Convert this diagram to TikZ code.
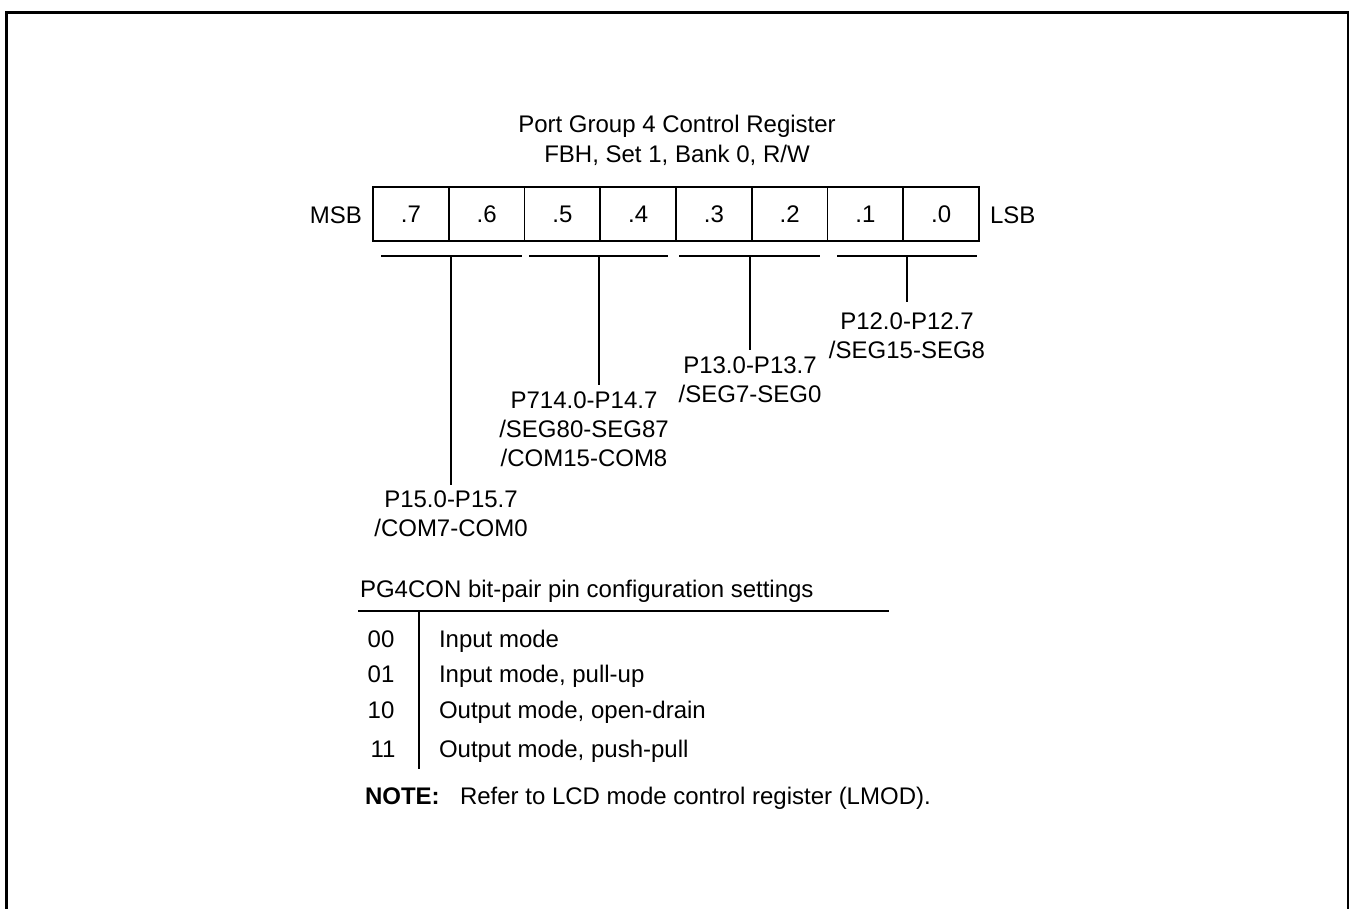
\documentclass[tikz,border=0pt]{standalone}
\usepackage{fontspec}
\setmainfont{Liberation Sans}
\begin{document}
\begin{tikzpicture}[x=1pt,y=-1pt,
  every node/.style={inner sep=0pt, outer sep=0pt, font=\fontsize{24}{28.8}\selectfont},
  ln/.style={line width=1.8pt},
  cell/.style={draw, line width=1.8pt, minimum width=75.75pt, minimum height=54pt, text height=17pt, text depth=0pt},
  lbl/.style={align=center, anchor=north}]
\useasboundingbox (0,0) rectangle (1351,909);
% outer frame (bottom edge lies outside the picture)
\draw[line width=2.4pt] (6.5,930) -- (6.5,12.5) -- (1348,12.5) -- (1348,930);

% title
\node[anchor=base] (t1) at (677,133) {Port Group 4 Control Register};
\node[anchor=base] (t2) at (677,163) {FBH, Set 1, Bank 0, R/W};

% register cells
\foreach \i in {7,6,5,4,3,2,1,0} {
  \node[cell] (c\i) at ({373+75.75*(7-\i+0.5)},214) {.\i};
}
\node[anchor=base east] (msb) at (362,224) {MSB};
\node[anchor=base west] (lsb) at (990,224) {LSB};

% brackets
\coordinate (b1l) at (381,256); \coordinate (b1r) at (522,256); \coordinate (b1) at (451,256);
\coordinate (b2l) at (529,256); \coordinate (b2r) at (668,256); \coordinate (b2) at (599,256);
\coordinate (b3l) at (679,256); \coordinate (b3r) at (820,256); \coordinate (b3) at (750,256);
\coordinate (b4l) at (837,256); \coordinate (b4r) at (977,256); \coordinate (b4) at (907,256);
\draw[ln] (b1l) -- (b1r);
\draw[ln] (b2l) -- (b2r);
\draw[ln] (b3l) -- (b3r);
\draw[ln] (b4l) -- (b4r);

% labels
\node[lbl] (l1) at (451,491) {P15.0-P15.7\\/COM7-COM0};
\node[lbl] (l2) at (584,392) {P714.0-P14.7\\/SEG80-SEG87\\/COM15-COM8};
\node[lbl] (l3) at (750,357) {P13.0-P13.7\\/SEG7-SEG0};
\node[lbl] (l4) at (907,313) {P12.0-P12.7\\/SEG15-SEG8};

% stems
\draw[ln] (b1) -- ([yshift=6pt]b1 |- l1.north);
\draw[ln] (b2) -- ([yshift=7pt]b2 |- l2.north);
\draw[ln] (b3) -- ([yshift=7pt]b3 |- l3.north);
\draw[ln] (b4) -- ([yshift=11pt]b4 |- l4.north);

% settings table
\node[anchor=base west] (hdr) at (360,597) {PG4CON bit-pair pin configuration settings};
\coordinate (tl) at (358,611); \coordinate (tr) at (889,611);
\coordinate (vt) at (419,611); \coordinate (vb) at (419,769);
\draw[ln] (tl) -- (tr);
\draw[ln] (vt) -- (vb);

\node[anchor=base] (k00) at (381,647) {00};
\node[anchor=base] (k01) at (381,682) {01};
\node[anchor=base] (k10) at (381,718) {10};
\node[anchor=base] (k11) at (383,757) {11};
\node[anchor=base west] (d00) at (439,647) {Input mode};
\node[anchor=base west] (d01) at (439,682) {Input mode, pull-up};
\node[anchor=base west] (d10) at (439,718) {Output mode, open-drain};
\node[anchor=base west] (d11) at (439,757) {Output mode, push-pull};

% note
\node[anchor=base west, font=\fontsize{24}{28.8}\selectfont\bfseries] (note) at (365,804) {NOTE:};
\node[anchor=base west] (notetxt) at (460,804) {Refer to LCD mode control register (LMOD).};
\end{tikzpicture}
\end{document}
